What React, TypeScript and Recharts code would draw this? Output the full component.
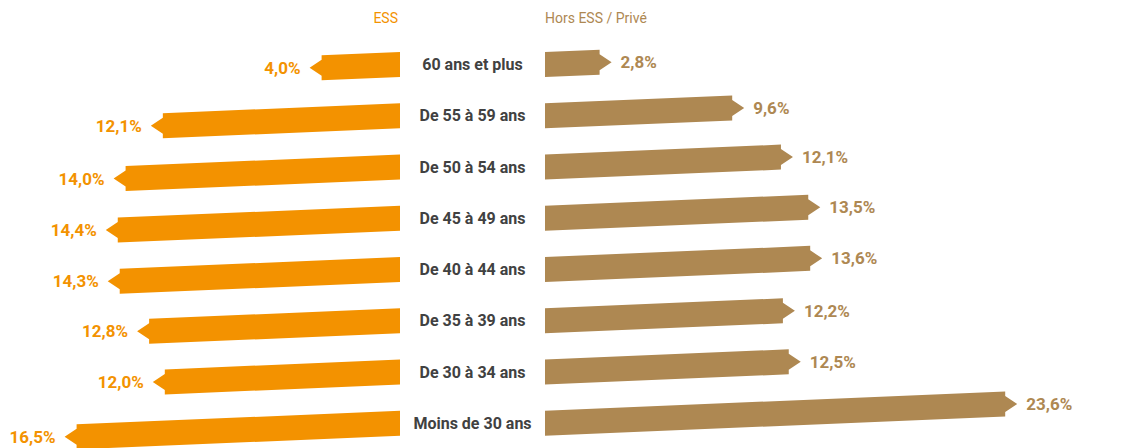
import React from 'react';
import { BarChart, Bar, XAxis, YAxis, LabelList } from 'recharts';

const categories = [
  '60 ans et plus',
  'De 55 à 59 ans',
  'De 50 à 54 ans',
  'De 45 à 49 ans',
  'De 40 à 44 ans',
  'De 35 à 39 ans',
  'De 30 à 34 ans',
  'Moins de 30 ans',
];
const essValues = [4.0, 12.1, 14.0, 14.4, 14.3, 12.8, 12.0, 16.5];
const horsValues = [2.8, 9.6, 12.1, 13.5, 13.6, 12.2, 12.5, 23.6];
const seriesNames = ['ESS', 'Hors ESS / Privé'];

const ORANGE = '#F39200';
const BROWN = '#AE8852';
const TEXT = '#414141';
const FONT = 'Roboto, "Noto Sans", sans-serif';

const SLOPE = 0.042;
const TIP = 12;
const NOTCH = 8;

const data = categories.map((c, i) => ({ cat: c, ess: essValues[i], hors: horsValues[i] }));

const fmt = (v: number) => v.toFixed(1).replace('.', ',') + '%';

function LeftArrow(props: any) {
  const { x, y, width, height, fill } = props;
  const L = Math.min(x, x + width);
  const R = Math.max(x, x + width);
  const cy = y + height / 2;
  const h = height / 2;
  const cyL = cy + SLOPE * (R - L);
  const pts = [
    [R, cy - h],
    [R, cy + h],
    [L, cyL + h],
    [L, cyL + NOTCH],
    [L - TIP, cyL],
    [L, cyL - NOTCH],
    [L, cyL - h],
  ];
  return <polygon points={pts.map((p) => p.join(',')).join(' ')} fill={fill} />;
}

function RightArrow(props: any) {
  const { x, y, width, height, fill } = props;
  const L = Math.min(x, x + width);
  const R = Math.max(x, x + width);
  const cy = y + height / 2;
  const h = height / 2;
  const cyR = cy - SLOPE * (R - L);
  const pts = [
    [L, cy - h],
    [R, cyR - h],
    [R, cyR - NOTCH],
    [R + TIP, cyR],
    [R, cyR + NOTCH],
    [R, cyR + h],
    [L, cy + h],
  ];
  return <polygon points={pts.map((p) => p.join(',')).join(' ')} fill={fill} />;
}

function LeftLabel(props: any) {
  const { x, y, width, height, value } = props;
  const L = Math.min(x, x + width);
  const R = Math.max(x, x + width);
  const cy = y + height / 2 + SLOPE * (R - L);
  return (
    <text x={L - TIP - 9} y={cy} textAnchor="end" dominantBaseline="central"
      fill={ORANGE} fontFamily={FONT} fontWeight={700} fontSize={17}>
      {fmt(value)}
    </text>
  );
}

function RightLabel(props: any) {
  const { x, y, width, height, value } = props;
  const L = Math.min(x, x + width);
  const R = Math.max(x, x + width);
  const cy = y + height / 2 - SLOPE * (R - L);
  return (
    <text x={R + TIP + 9} y={cy} textAnchor="start" dominantBaseline="central"
      fill={BROWN} fontFamily={FONT} fontWeight={700} fontSize={17}>
      {fmt(value)}
    </text>
  );
}

function CatTick(props: any) {
  const { x, y, payload } = props;
  return (
    <text x={x - 72.5} y={y} textAnchor="middle" dominantBaseline="central"
      fill={TEXT} fontFamily={FONT} fontWeight={700} fontSize={16}>
      {payload.value}
    </text>
  );
}

export default function App() {
  const margin = { top: 39, bottom: 3, left: 0, right: 0 };
  return (
    <div style={{ position: 'absolute', left: 0, top: 0, width: 1141, height: 448, overflow: 'hidden', background: '#fff', fontFamily: FONT }}>
      <div style={{ position: 'absolute', left: 0, top: 9, width: 398, textAlign: 'right', color: ORANGE, fontSize: 14, lineHeight: '18px' }}>
        {seriesNames[0]}
      </div>
      <div style={{ position: 'absolute', left: 545, top: 9, color: BROWN, fontSize: 14, lineHeight: '18px' }}>
        {seriesNames[1]}
      </div>
      <div style={{ position: 'absolute', left: 0, top: 0 }}>
        <BarChart width={400} height={452} data={data} layout="vertical" margin={margin}>
          <XAxis type="number" domain={[0, 400 / 19.6]} reversed hide />
          <YAxis type="category" dataKey="cat" hide />
          <Bar dataKey="ess" fill={ORANGE} barSize={25} shape={LeftArrow} isAnimationActive={false}>
            <LabelList dataKey="ess" content={LeftLabel} />
          </Bar>
        </BarChart>
      </div>
      <div style={{ position: 'absolute', left: 400, top: 0 }}>
        <BarChart width={741} height={452} data={data} layout="vertical" margin={margin}>
          <XAxis type="number" domain={[0, 596 / 19.5]} hide />
          <YAxis type="category" dataKey="cat" width={145} axisLine={false} tickLine={false}
            tickSize={0} tickMargin={0} tick={CatTick} interval={0} />
          <Bar dataKey="hors" fill={BROWN} barSize={25} shape={RightArrow} isAnimationActive={false}>
            <LabelList dataKey="hors" content={RightLabel} />
          </Bar>
        </BarChart>
      </div>
    </div>
  );
}
